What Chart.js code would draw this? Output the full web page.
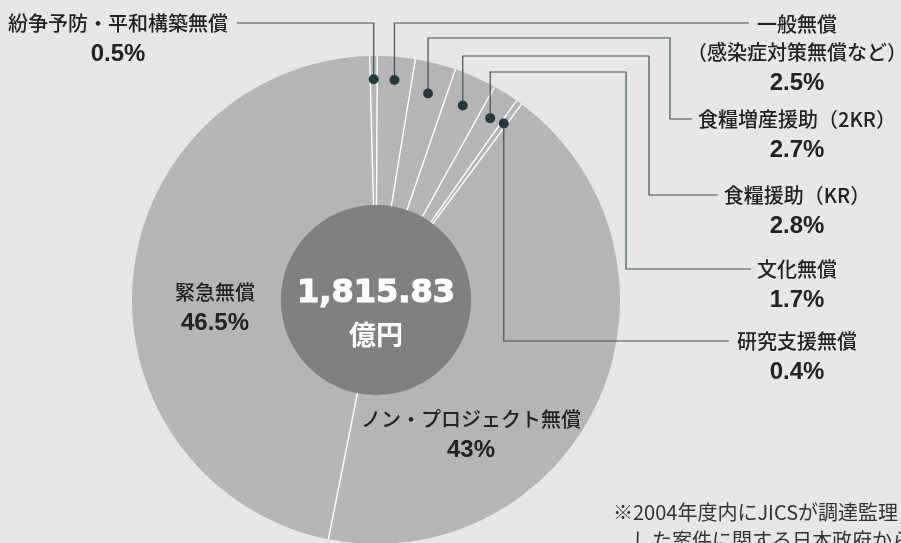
<!DOCTYPE html>
<html lang="ja">
<head>
<meta charset="utf-8">
<script src="https://cdn.jsdelivr.net/npm/chart.js@4.4.0/dist/chart.umd.min.js"></script>
<style>
  html, body { margin: 0; padding: 0; background: #e7e7e7; overflow: hidden; }
  #wrap { width: 901px; height: 560px; }
</style>
</head>
<body>
<div id="wrap"><canvas id="pie" width="901" height="560"></canvas></div>
<script>
// 無償資金協力の内訳（2004年度）
var categories = ['紛争予防・平和構築無償', '一般無償（感染症対策無償など）', '食糧増産援助（2KR）', '食糧援助（KR）', '文化無償', '研究支援無償', 'ノン・プロジェクト無償', '緊急無償'];
var shares = [0.5, 2.5, 2.7, 2.8, 1.7, 0.4, 43, 46.5];
// how each name is printed (line breaks)
var labelLines = [
  ['紛争予防・平和構築無償'],
  ['一般無償', '（感染症対策無償など）'],
  ['食糧増産援助（2KR）'],
  ['食糧援助（KR）'],
  ['文化無償'],
  ['研究支援無償'],
  ['ノン・プロジェクト無償'],
  ['緊急無償']
];
var totalText = '1,815.83';
var totalUnit = '億円';
var footnote = ['※2004年度内にJICSが調達監理', 'した案件に関する日本政府から'];

// layout of the callouts (not data)
var callouts = [
  { side: 'left', x: 118, y: 23, bendY: 23, dotR: 0.905 },
  { side: 'right', x: 797, y: 24, bendY: 23, dotR: 0.905 },
  { side: 'right', x: 797, y: 119, bendY: 38, turnX: 670, dotR: 0.873 },
  { side: 'right', x: 797, y: 195, bendY: 56, turnX: 649, dotR: 0.873 },
  { side: 'right', x: 797, y: 269, bendY: 72, turnX: 626, dotR: 0.88 },
  { side: 'right', x: 797, y: 341, bendY: null, dotR: 0.893 },
  { side: 'inside', x: 471, y: 419 },
  { side: 'inside', x: 215, y: 292 }
];

var labelFont = '500 20px "Noto Sans CJK JP"';
var insideFont = '500 20px "Noto Sans CJK JP"';
var pctFont = 'bold 24px "Liberation Sans"';

var overlay = {
  id: 'overlay',
  afterDatasetsDraw: function(chart) {
    var ctx = chart.ctx;
    var arcs = chart.getDatasetMeta(0).data;
    var p = arcs[0].getProps(['x', 'y', 'outerRadius'], true);
    var cx = p.x, cy = p.y, R = p.outerRadius;

    ctx.save();
    // white separators between slices
    ctx.strokeStyle = '#ffffff';
    ctx.lineWidth = 1.4;
    arcs.forEach(function(a) {
      var ang = a.startAngle;
      ctx.beginPath();
      ctx.moveTo(cx, cy);
      ctx.lineTo(cx + R * Math.cos(ang), cy + R * Math.sin(ang));
      ctx.stroke();
    });

    // center disk
    ctx.fillStyle = '#7f8081';
    ctx.beginPath();
    ctx.arc(cx, cy, R * 0.39, 0, Math.PI * 2);
    ctx.fill();

    ctx.fillStyle = '#ffffff';
    ctx.textAlign = 'center';
    ctx.textBaseline = 'middle';
    ctx.font = 'bold 32px "DejaVu Sans"';
    ctx.strokeStyle = '#ffffff';
    ctx.lineWidth = 1.2;
    ctx.fillText(totalText, cx, cy - 6);
    ctx.strokeText(totalText, cx, cy - 6);
    ctx.font = 'bold 27px "Noto Sans CJK JP"';
    ctx.fillText(totalUnit, cx, cy + 35);

    // labels and leader lines
    callouts.forEach(function(c, i) {
      var lines = labelLines[i];
      var pct = shares[i] + '%';
      ctx.fillStyle = '#222222';
      ctx.font = c.side == 'inside' ? insideFont : labelFont;
      var y = c.y;
      var w = ctx.measureText(lines[0]).width;
      lines.forEach(function(t, k) {
        ctx.fillText(t, c.x, y + k * 28);
      });
      ctx.font = pctFont;
      ctx.fillText(pct, c.x, y + (lines.length - 1) * 28 + 31);

      if (c.side == 'inside') return;

      var a = arcs[i];
      var mid = (a.startAngle + a.endAngle) / 2;
      var dx = cx + R * c.dotR * Math.cos(mid);
      var dy = cy + R * c.dotR * Math.sin(mid);

      ctx.strokeStyle = '#3a5355';
      ctx.lineWidth = 1.2;
      ctx.beginPath();
      ctx.moveTo(dx, dy);
      if (c.side == 'left') {
        ctx.lineTo(dx, c.bendY);
        ctx.lineTo(c.x + w / 2 + 9, c.bendY);
      } else if (c.bendY == null) {
        ctx.lineTo(dx, y);
        ctx.lineTo(c.x - w / 2 - 8, y);
      } else if (c.turnX == null) {
        ctx.lineTo(dx, c.bendY);
        ctx.lineTo(c.x - w / 2 - 8, c.bendY);
      } else {
        ctx.lineTo(dx, c.bendY);
        ctx.lineTo(c.turnX, c.bendY);
        ctx.lineTo(c.turnX, y);
        ctx.lineTo(c.x - w / 2 - 6, y);
      }
      ctx.stroke();

      ctx.fillStyle = '#1f3d40';
      ctx.beginPath();
      ctx.arc(dx, dy, 5, 0, Math.PI * 2);
      ctx.fill();
    });

    // footnote
    ctx.fillStyle = '#333333';
    ctx.textAlign = 'left';
    ctx.font = '20px "Noto Sans CJK JP"';
    ctx.fillText(footnote[0], 613, 512);
    ctx.fillText(footnote[1], 632, 540);
    ctx.restore();
  }
};

var chart = new Chart(document.getElementById('pie').getContext('2d'), {
  type: 'pie',
  data: {
    labels: categories,
    datasets: [{
      data: shares,
      backgroundColor: '#b6b5b5',
      borderWidth: 0
    }]
  },
  options: {
    responsive: false,
    animation: false,
    rotation: -1.5,
    layout: { padding: { left: 132, right: 281, top: 56, bottom: 16 } },
    plugins: { legend: { display: false }, tooltip: { enabled: false } }
  },
  plugins: [overlay]
});
</script>
</body>
</html>
